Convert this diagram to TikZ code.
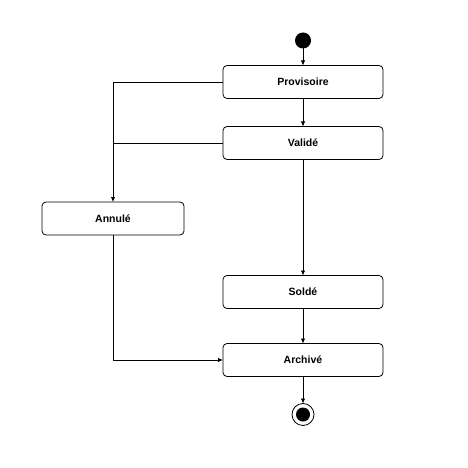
\documentclass[tikz,border=0pt]{standalone}
\usepackage{fontspec}
\setmainfont{Liberation Sans}
\usepackage{tikz}
\usetikzlibrary{arrows.meta,positioning,calc}

\begin{document}
\begin{tikzpicture}[x=1pt,y=-1pt,every path/.style={line width=.8pt},
    >={Latex[length=5pt,width=4.5pt]}]
  \tikzstyle{etat} = [draw,rounded corners=4pt,minimum width=160pt,minimum height=33pt,
    inner sep=0pt,outer sep=0pt,font=\bfseries\fontsize{10.5}{12}\selectfont];
  \tikzstyle{debut} = [circle,fill=black,minimum size=16pt,inner sep=0pt,outer sep=0pt];
  \useasboundingbox (0,0) rectangle (468,468);
  \node[etat] (prov) at (303,82) {Provisoire};
  \node[debut,above=17pt of prov] (init) {};
  \node[etat,below=28pt of prov] (valide) {Validé};
  \node[etat,below=116pt of valide] (solde) {Soldé};
  \node[etat,below=35pt of solde] (archive) {Archivé};
  \node[etat,minimum width=142pt] (annule) at (113,218.5) {Annulé};
  \node[circle,draw,minimum size=22pt,inner sep=0pt,outer sep=0pt,below=27pt of archive] (fin) {};
  \node[debut,minimum size=14pt] at (fin) {};
  \draw[->] (init) -- (prov);
  \draw[->] (prov) -- (valide);
  \draw[->] (valide) -- (solde);
  \draw[->] (solde) -- (archive);
  \draw[->] (archive) -- (fin);
  \draw[->] (prov.west) -| (annule.north);
  \draw (valide.west) -- (valide.west -| annule.north);
  \draw[->] (annule.south) |- (archive.west);
\end{tikzpicture}
\end{document}
